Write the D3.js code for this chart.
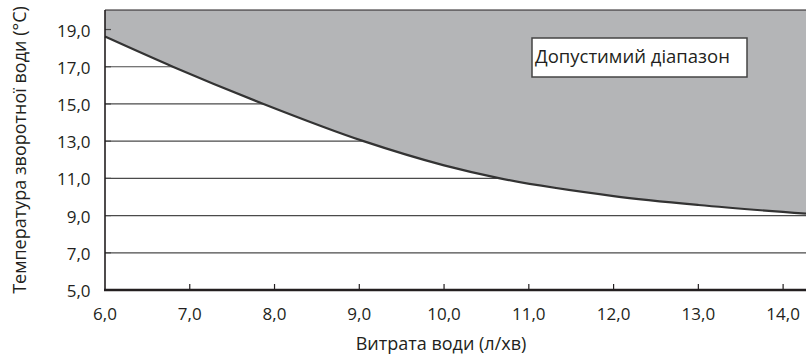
<!DOCTYPE html>
<html><head><meta charset="utf-8">
<script src="https://cdn.jsdelivr.net/npm/d3@7"></script>
<style>body{margin:0;background:#fff}svg{display:block}text{font-family:"Open Sans",sans-serif;fill:#231f20}</style>
</head><body>
<svg id="c" width="806" height="356"></svg>
<script>
const flow = [6.0, 6.8, 7.87, 9.05, 10.0, 10.66, 12.0, 13.0, 14.27];
const temp = [18.62, 17.0, 15.0, 13.0, 11.7, 11.0, 10.05, 9.57, 9.1];
const xTicks = [6, 7, 8, 9, 10, 11, 12, 13, 14];
const yTicks = [5, 7, 9, 11, 13, 15, 17, 19];
const xTitle = "Витрата води (л/хв)";
const yTitle = "Температура зворотної води (°C)";
const legendText = "Допустимий діапазон";

const svg = d3.select("#c");
const L = 105, R = 806, T = 10, B = 290;
const x = d3.scaleLinear().domain([6, 14.27]).range([L, R]);
const y = d3.scaleLinear().domain([5, 20.05]).range([B, T]);
const fmt = v => v.toFixed(1).replace(".", ",");
const pts = flow.map((f, i) => [f, temp[i]]);

// gridlines
svg.append("g").selectAll("line").data(yTicks.filter(v => v > 5)).join("line")
  .attr("x1", L).attr("x2", R).attr("y1", d => y(d)).attr("y2", d => y(d))
  .attr("stroke", "#4a4a4a").attr("stroke-width", 1.2);

// area (above curve)
const area = d3.area().x(d => x(d[0])).y0(T).y1(d => y(d[1])).curve(d3.curveMonotoneX);
svg.append("path").datum(pts).attr("d", area).attr("fill", "#b4b5b7");

// y small inner ticks
svg.append("g").selectAll("line").data(yTicks.filter(v => v > 5)).join("line")
  .attr("x1", L).attr("x2", L + 6).attr("y1", d => y(d)).attr("y2", d => y(d))
  .attr("stroke", "#4a4a4a").attr("stroke-width", 1.2);

// curve
const line = d3.line().x(d => x(d[0])).y(d => y(d[1])).curve(d3.curveMonotoneX);
svg.append("path").datum(pts).attr("d", line).attr("fill", "none").attr("stroke", "#333").attr("stroke-width", 2.2);

// axes lines
svg.append("line").attr("x1", L).attr("x2", L).attr("y1", T).attr("y2", B).attr("stroke", "#231f20").attr("stroke-width", 1.6);
svg.append("line").attr("x1", L - 1).attr("x2", R).attr("y1", B).attr("y2", B).attr("stroke", "#231f20").attr("stroke-width", 2.4);
svg.append("line").attr("x1", L).attr("x2", R).attr("y1", T).attr("y2", T).attr("stroke", "#231f20").attr("stroke-width", 1);

// x ticks (inward)
svg.append("g").selectAll("line").data(xTicks.slice(1)).join("line")
  .attr("x1", d => x(d)).attr("x2", d => x(d)).attr("y1", B).attr("y2", B - 6)
  .attr("stroke", "#231f20").attr("stroke-width", 1.2);

// tick labels
svg.append("g").selectAll("text").data(xTicks).join("text")
  .attr("x", d => x(d)).attr("y", 320).attr("text-anchor", "middle")
  .style("font-size", "17px").text(fmt);
svg.append("g").selectAll("text").data(yTicks).join("text")
  .attr("x", 90.5).attr("y", d => y(d) + 7).attr("text-anchor", "end")
  .style("font-size", "17px").text(fmt);

// titles
svg.append("text").attr("x", 441).attr("y", 350).attr("text-anchor", "middle").style("font-size", "18px").text(xTitle);
svg.append("text").attr("transform", "translate(26,150) rotate(-90)").attr("text-anchor", "middle").style("font-size", "18px").text(yTitle);

// legend box
svg.append("rect").attr("x", 532).attr("y", 38).attr("width", 215).attr("height", 39)
  .attr("fill", "#fff").attr("stroke", "#444").attr("stroke-width", 1.5);
svg.append("text").attr("x", 535).attr("y", 63).style("font-size", "18.5px").text(legendText);
</script>
</body></html>
